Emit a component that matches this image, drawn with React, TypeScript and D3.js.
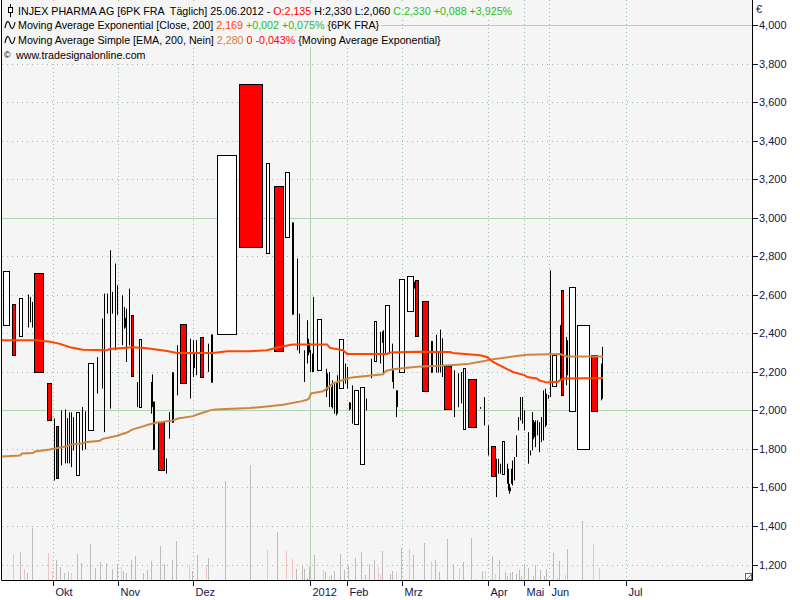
import React, { useEffect, useRef } from "react";
import * as d3 from "d3";

// [pos, width, open, high, low, close]  (pos/width in cumulative volume units)
const candles: number[][] = [
  [0.7, 7.6, 2.436, 2.724, 2.436, 2.724],
  [10.3, 4, 2.554, 2.554, 2.284, 2.284],
  [17.3, 4, 2.383, 2.585, 2.383, 2.585],
  [26.3, 1, 2.55, 2.601, 2.43, 2.5],
  [28.3, 1, 2.55, 2.589, 2.457, 2.5],
  [30.3, 1, 2.5, 2.563, 2.43, 2.47],
  [32.3, 10, 2.715, 2.715, 2.196, 2.196],
  [45.3, 4.4, 2.144, 2.144, 1.946, 1.946],
  [51.7, 1, 1.9, 1.958, 1.636, 1.7],
  [54, 2.7, 1.917, 1.917, 1.643, 1.643],
  [59, 1, 1.9, 2.0, 1.714, 1.8],
  [63, 1, 1.9, 2.005, 1.725, 1.8],
  [65, 1, 1.9, 1.96, 1.725, 1.8],
  [67.3, 1, 1.9, 1.99, 1.725, 1.8],
  [69.3, 1, 1.9, 1.99, 1.705, 1.8],
  [71.3, 1, 1.9, 1.965, 1.792, 1.85],
  [74.3, 4, 1.661, 1.993, 1.661, 1.993],
  [80.3, 1, 1.9, 2.017, 1.792, 1.95],
  [83.3, 1, 1.9, 1.995, 1.797, 1.95],
  [86.3, 6, 1.895, 2.248, 1.895, 2.248],
  [94.7, 1, 2.15, 2.277, 2.087, 2.2],
  [99.7, 1, 2.3, 2.476, 2.113, 2.35],
  [102.3, 1, 2.2, 2.606, 1.887, 2.4],
  [105, 1, 2.55, 2.606, 2.502, 2.56],
  [108, 1, 2.3, 2.831, 2.009, 2.5],
  [110, 1, 2.55, 2.615, 2.502, 2.58],
  [113, 1, 2.5, 2.762, 2.312, 2.6],
  [115.3, 1, 2.55, 2.649, 2.494, 2.6],
  [120, 1, 2.45, 2.597, 2.338, 2.5],
  [122, 2, 2.48, 2.537, 2.424, 2.43],
  [124, 1, 2.35, 2.528, 2.251, 2.45],
  [127, 1, 2.45, 2.632, 2.338, 2.55],
  [129, 2.7, 2.497, 2.497, 2.173, 2.173],
  [134.7, 1, 2.05, 2.147, 2.017, 2.1],
  [136.7, 3.6, 2.014, 2.372, 2.014, 2.372],
  [148.7, 1, 2.05, 2.147, 1.983, 2.1],
  [150.3, 1, 2.1, 2.187, 2.017, 2.15],
  [151, 2.3, 2.045, 2.045, 1.796, 1.796],
  [156.3, 6.4, 1.939, 1.939, 1.687, 1.687],
  [163.7, 1, 1.7, 1.75, 1.671, 1.69],
  [166.7, 1, 1.9, 1.991, 1.853, 1.95],
  [170, 2.3, 1.936, 2.197, 1.936, 2.197],
  [175, 1, 2.2, 2.338, 2.078, 2.25],
  [178.3, 6.4, 2.447, 2.447, 2.139, 2.139],
  [188, 1, 2.2, 2.372, 2.061, 2.3],
  [191.3, 2, 2.3, 2.364, 2.173, 2.22],
  [193.7, 1, 2.25, 2.364, 2.182, 2.3],
  [198.3, 4, 2.383, 2.383, 2.168, 2.168],
  [205.7, 1, 2.25, 2.346, 2.199, 2.3],
  [209.3, 2, 2.144, 2.393, 2.144, 2.393],
  [214.7, 20, 2.393, 3.323, 2.393, 3.323],
  [237.3, 24, 3.692, 3.692, 2.845, 2.845],
  [264.3, 4, 2.814, 3.282, 2.814, 3.282],
  [271.5, 10.2, 3.167, 3.167, 2.305, 2.305],
  [283.3, 4.4, 2.892, 3.235, 2.892, 3.235],
  [290.3, 2.4, 2.975, 2.975, 2.497, 2.497],
  [295.3, 1, 2.6, 2.788, 2.312, 2.5],
  [297.3, 1, 2.4, 2.502, 2.295, 2.35],
  [302, 1, 2.25, 2.312, 2.147, 2.2],
  [304.7, 1, 2.35, 2.468, 2.243, 2.3],
  [306.3, 2, 2.35, 2.372, 2.286, 2.3],
  [308, 2, 2.25, 2.312, 2.199, 2.22],
  [309.7, 1, 2.25, 2.295, 2.199, 2.22],
  [311.3, 1, 2.3, 2.589, 2.199, 2.4],
  [315.3, 4.4, 2.204, 2.476, 2.204, 2.476],
  [323.7, 1, 2.15, 2.216, 2.069, 2.1],
  [325.3, 1, 2.15, 2.192, 2.104, 2.12],
  [326.7, 1, 2.1, 2.199, 2.017, 2.15],
  [328.7, 1, 2.05, 2.121, 2.017, 2.08],
  [330.3, 1, 2.1, 2.156, 2.009, 2.05],
  [332, 1, 2.05, 2.147, 1.983, 2.1],
  [333.7, 1, 2.05, 2.147, 1.974, 2.1],
  [335.3, 1, 2.1, 2.182, 1.983, 2.05],
  [337.3, 4.4, 2.113, 2.372, 2.113, 2.372],
  [343, 1, 2.2, 2.243, 2.139, 2.18],
  [344.7, 1, 2.15, 2.225, 2.113, 2.2],
  [347, 2, 2.04, 2.043, 2.0, 2.005],
  [349.7, 1, 2.05, 2.13, 1.931, 2.0],
  [352.3, 4.4, 1.926, 2.108, 1.926, 2.108],
  [358.3, 4.7, 1.718, 2.123, 1.718, 2.123],
  [364.3, 2, 2.06, 2.061, 2.0, 2.0],
  [369, 1, 2.2, 2.268, 2.166, 2.22],
  [372, 2.7, 2.251, 2.462, 2.251, 2.462],
  [378, 1, 2.35, 2.407, 2.243, 2.3],
  [379.7, 2, 2.4, 2.41, 2.35, 2.355],
  [381.3, 1, 2.3, 2.416, 2.191, 2.35],
  [383.3, 4.4, 2.294, 2.545, 2.294, 2.545],
  [389.7, 1, 2.25, 2.346, 2.147, 2.2],
  [391.3, 2, 2.2, 2.208, 2.113, 2.12],
  [393.7, 1, 2.05, 2.104, 1.965, 2.0],
  [395, 1, 2.05, 2.104, 2.017, 2.08],
  [397, 6.3, 2.194, 2.684, 2.194, 2.684],
  [405.3, 6.4, 2.511, 2.696, 2.511, 2.696],
  [412.3, 1, 2.66, 2.667, 2.632, 2.64],
  [413.3, 4, 2.675, 2.675, 2.383, 2.383],
  [420.3, 6.4, 2.566, 2.566, 2.095, 2.095],
  [429, 2.3, 2.196, 2.36, 2.196, 2.36],
  [433.7, 1, 2.25, 2.393, 2.196, 2.3],
  [436, 1, 2.25, 2.3, 2.196, 2.22],
  [438.3, 1, 2.3, 2.419, 2.196, 2.35],
  [440.3, 1, 2.25, 2.374, 2.173, 2.3],
  [442.3, 8, 2.23, 2.23, 2.004, 2.004],
  [452.3, 1, 2.1, 2.208, 1.965, 2.05],
  [456, 1, 2.1, 2.192, 2.016, 2.15],
  [458.7, 1, 2.1, 2.199, 2.036, 2.15],
  [461, 2.7, 1.9, 2.22, 1.9, 2.22],
  [466.3, 8.4, 2.161, 2.161, 1.91, 1.91],
  [478, 1, 2.01, 2.017, 2.008, 2.012],
  [481.7, 1, 2.0, 2.069, 1.922, 1.95],
  [486, 1, 1.85, 1.922, 1.766, 1.8],
  [489.3, 4.4, 1.817, 1.817, 1.656, 1.656],
  [494.3, 1, 1.7, 1.749, 1.55, 1.6],
  [496.3, 1, 1.7, 1.749, 1.671, 1.72],
  [498, 1, 1.7, 1.723, 1.671, 1.69],
  [500, 2.7, 1.666, 1.842, 1.666, 1.842],
  [504.7, 1, 1.7, 1.723, 1.619, 1.65],
  [506.3, 1, 1.65, 1.697, 1.584, 1.62],
  [507.3, 2, 1.6, 1.619, 1.567, 1.58],
  [509.3, 1, 1.65, 1.697, 1.619, 1.67],
  [510.3, 1, 1.65, 1.74, 1.61, 1.7],
  [511.7, 1, 1.7, 1.758, 1.636, 1.72],
  [514, 1, 1.8, 1.87, 1.758, 1.82],
  [515.7, 1, 1.92, 1.965, 1.896, 1.94],
  [518, 1, 2.0, 2.069, 1.948, 2.02],
  [520, 1, 1.98, 2.069, 1.931, 2.0],
  [522.3, 1, 1.95, 2.0, 1.896, 1.93],
  [525.7, 1, 1.8, 1.887, 1.723, 1.78],
  [527.7, 1, 1.78, 1.792, 1.766, 1.775],
  [530.3, 2, 1.85, 1.991, 1.792, 1.95],
  [532.3, 2, 1.9, 1.939, 1.861, 1.88],
  [533.3, 1, 1.85, 1.948, 1.809, 1.9],
  [535, 1, 1.9, 1.948, 1.87, 1.92],
  [536.7, 1, 1.85, 1.939, 1.783, 1.9],
  [539, 1, 1.9, 1.965, 1.835, 1.94],
  [541.3, 1, 2.0, 2.104, 1.844, 2.05],
  [543.3, 2, 2.0, 2.113, 1.913, 2.08],
  [544.3, 1, 2.0, 2.087, 1.922, 2.05],
  [546.3, 1, 2.07, 2.08, 2.06, 2.065],
  [547.7, 1, 2.1, 2.727, 2.069, 2.2],
  [550.3, 4.7, 2.121, 2.286, 2.121, 2.286],
  [557.7, 2, 2.364, 2.442, 2.156, 2.208],
  [559, 2.7, 2.627, 2.627, 2.074, 2.074],
  [563.7, 2, 2.35, 2.381, 2.13, 2.2],
  [565, 1, 2.3, 2.364, 2.182, 2.25],
  [567.3, 6.4, 1.993, 2.642, 1.993, 2.642],
  [575.3, 12.4, 1.796, 2.445, 1.796, 2.445],
  [589.3, 6.4, 2.289, 2.289, 1.993, 1.993],
  [598.7, 1, 2.15, 2.243, 2.052, 2.2],
  [600.3, 1, 2.135, 2.33, 2.06, 2.33],
];

// Moving Average Exponential [Close, 200]
const emaPoints: number[][] = [
  [0, 2.364], [35, 2.364], [48, 2.356], [58, 2.345], [68, 2.328], [81, 2.315],
  [105, 2.312], [108, 2.318], [131, 2.327], [145, 2.322], [165, 2.308], [175, 2.298],
  [211, 2.298], [225, 2.307], [248, 2.307], [265, 2.312], [278, 2.33], [291, 2.342],
  [325, 2.342], [328, 2.324], [341, 2.312], [345, 2.293], [385, 2.293], [388, 2.3],
  [415, 2.304], [448, 2.303], [451, 2.298], [478, 2.286], [485, 2.277], [491, 2.251],
  [511, 2.199], [523, 2.182], [525, 2.173], [535, 2.165], [537, 2.156], [545, 2.144],
  [556, 2.148], [558, 2.156], [561, 2.165], [600, 2.168], [601, 2.169],
];

// Moving Average Simple [EMA, 200]
const smaPoints: number[][] = [
  [0, 1.761], [18, 1.766], [20, 1.776], [31, 1.779], [33, 1.787], [48, 1.797],
  [50, 1.8], [65, 1.813], [68, 1.822], [81, 1.829], [83, 1.834], [98, 1.842],
  [100, 1.851], [115, 1.868], [117, 1.872], [125, 1.885], [130, 1.9], [141, 1.917],
  [146, 1.925], [155, 1.937], [160, 1.94], [171, 1.948], [176, 1.958], [191, 1.97],
  [196, 1.98], [208, 2.0], [213, 2.004], [248, 2.012], [265, 2.02], [281, 2.029],
  [300, 2.048], [305, 2.055], [307, 2.062], [309, 2.088], [321, 2.099], [325, 2.114],
  [331, 2.14], [345, 2.164], [350, 2.171], [381, 2.187], [384, 2.205], [391, 2.213],
  [415, 2.226], [448, 2.234], [465, 2.24], [481, 2.255], [491, 2.265], [511, 2.279],
  [525, 2.288], [558, 2.292], [565, 2.28], [601, 2.28],
];

// [pos, volume, down(1)/up(0)]
const volumes: number[][] = [
  [11.3, 26, 1], [18.3, 28, 0], [22.3, 11, 1], [25.3, 7, 0], [29.7, 52, 0],
  [46.3, 27, 1], [50.3, 9, 1], [54.3, 20, 0], [58.3, 13, 0], [62.3, 7, 0],
  [66.3, 8, 0], [69, 7, 1], [75.3, 26, 0], [79.3, 17, 0], [88.3, 36, 0],
  [93.3, 12, 0], [98.3, 18, 0], [104.3, 17, 0], [110.3, 11, 0], [115.3, 16, 0],
  [119.3, 13, 1], [121.3, 9, 0], [124.3, 7, 0], [129.3, 20, 0], [133.3, 24, 0],
  [141.3, 7, 0], [145.3, 10, 0], [149.3, 19, 0], [158.3, 34, 0], [162.3, 16, 0],
  [170.3, 20, 0], [174.3, 39, 0], [187.3, 15, 1], [190.3, 9, 0], [195.3, 25, 0],
  [204.3, 15, 1], [206.3, 22, 0], [223.3, 99, 0], [248.3, 115, 0], [265.3, 30, 1],
  [275.3, 48, 0], [284.3, 29, 1], [290.3, 21, 1], [294.3, 11, 0], [300.3, 14, 0],
  [302.3, 11, 0], [305.3, 2, 0], [307.3, 13, 0], [312.3, 25, 0], [321.3, 10, 1],
  [323.3, 8, 0], [327.3, 4, 1], [329.3, 5, 0], [332.3, 9, 0], [338.3, 26, 0],
  [342.3, 10, 0], [346.3, 14, 0], [353.3, 22, 0], [359.3, 28, 0], [363.3, 5, 0],
  [367.3, 16, 0], [372.3, 20, 0], [376.3, 13, 1], [378.3, 5, 1], [380.3, 29, 0],
  [388.3, 6, 0], [390.3, 9, 0], [394.3, 8, 1], [399.3, 32, 0], [407.3, 31, 1],
  [411.3, 25, 0], [422.3, 37, 0], [429.3, 19, 1], [433.3, 20, 0], [437.3, 8, 0],
  [445.3, 41, 0], [451.3, 15, 0], [457.3, 12, 1], [461.3, 18, 0], [469.3, 42, 0],
  [474.3, 1, 1], [480.3, 9, 0], [483.3, 9, 1], [490.3, 24, 0], [493.3, 6, 1],
  [497.3, 20, 0], [503.3, 8, 0], [505.3, 4, 0], [508.3, 7, 0], [510.3, 8, 0],
  [514.3, 6, 0], [517.3, 10, 0], [519.3, 4, 0], [522.3, 16, 0], [526.3, 12, 0],
  [531.3, 4, 0], [533.3, 15, 0], [538.3, 10, 0], [542.3, 4, 0], [544.3, 11, 0],
  [551.3, 27, 0], [555.3, 2, 1], [557.3, 19, 0], [563.3, 5, 1], [565.3, 31, 0],
  [580.3, 59, 0], [591.3, 36, 1], [597.3, 12, 1],
];

const priceTicks = [1.2, 1.4, 1.6, 1.8, 2.0, 2.2, 2.4, 2.6, 2.8, 3.0, 3.2, 3.4, 3.6, 3.8, 4.0];
const monthLabels = ["Okt", "Nov", "Dez", "2012", "Feb", "Mrz", "Apr", "Mai", "Jun", "Jul"];
const monthPos = [51, 116, 191, 308, 345, 400, 486, 522, 547, 624];

const RED = "#ff0000";
const GREEN = "#1fbf1f";
const EMA_COLOR = "#ff4500";
const SMA_COLOR = "#cd853f";

const headerRows: [string, string][][] = [
  [["INJEX PHARMA AG [6PK FRA  Täglich] 25.06.2012 - ", "#000"], ["O:2,135", RED], [" H:2,330 L:2,060 ", "#000"], ["C:2,330 +0,088 +3,925%", GREEN]],
  [["Moving Average Exponential [Close, 200] ", "#000"], ["2,169", EMA_COLOR], [" +0,002 +0,075%", GREEN], [" {6PK FRA}", "#000"]],
  [["Moving Average Simple [EMA, 200, Nein] ", "#000"], ["2,280", SMA_COLOR], [" 0 -0,043%", RED], [" {Moving Average Exponential}", "#000"]],
  [["www.tradesignalonline.com", "#000"]],
];

export default function App() {
  const ref = useRef<SVGSVGElement>(null);
  useEffect(() => {
    const svg = d3.select(ref.current);
    svg.selectAll("*").remove();
    const font = "'Liberation Sans', Arial, sans-serif";
    const left = 2, right = 752, bottom = 580;
    const x = d3.scaleLinear().domain([0, 750]).range([left, right]);
    const y = d3.scaleLinear().domain([1.2, 4.0]).range([564.5, 25]);
    const vy = d3.scaleLinear().domain([0, 120]).range([bottom, bottom - 120]);
    const px = (v: number) => Math.round(v) + 0.5;

    svg.append("rect").attr("width", 800).attr("height", 600).attr("fill", "#ffffff");
    svg.append("rect").attr("x", left).attr("y", 0).attr("width", right - left).attr("height", bottom).attr("fill", "#f5f5f5");

    // volume
    const vg = svg.append("g");
    volumes.forEach((d) => {
      vg.append("line")
        .attr("x1", px(x(d[0]))).attr("x2", px(x(d[0])))
        .attr("y1", bottom).attr("y2", vy(d[1]))
        .attr("stroke", d[2] ? "#f0c4c4" : "#bcbcbc").attr("stroke-width", 1);
    });

    // grid
    const gg = svg.append("g");
    priceTicks.forEach((t) => {
      const solid = Math.abs(t - Math.round(t)) < 1e-6;
      gg.append("line")
        .attr("x1", left).attr("x2", right)
        .attr("y1", px(y(t))).attr("y2", px(y(t)))
        .attr("stroke", solid ? "#b2d0b2" : "#a2bea2")
        .attr("stroke-dasharray", solid ? null : "1,4");
    });
    monthPos.forEach((p, i) => {
      const solid = monthLabels[i] === "2012";
      gg.append("line")
        .attr("x1", px(x(p))).attr("x2", px(x(p)))
        .attr("y1", 0).attr("y2", bottom)
        .attr("stroke", solid ? "#b2d0b2" : "#a2bea2")
        .attr("stroke-dasharray", solid ? null : "1,3");
    });

    // candles
    const cg = svg.append("g");
    candles.forEach(([pos, w, o, h, l, c]) => {
      const x0 = x(pos), x1 = x(pos + w);
      const pw = x1 - x0;
      const top = Math.max(o, c), bot = Math.min(o, c);
      if (pw <= 2.4) {
        const xc = px(x0);
        cg.append("line").attr("x1", xc).attr("x2", xc).attr("y1", y(h)).attr("y2", y(l))
          .attr("stroke", "#000").attr("stroke-width", 1);
        if (pw >= 2) {
          cg.append("rect").attr("x", Math.round(x0)).attr("width", 2)
            .attr("y", y(top)).attr("height", Math.max(1, y(bot) - y(top))).attr("fill", "#000");
        }
      } else {
        const xc = px((x0 + x1) / 2);
        if (h > top + 1e-6) {
          cg.append("line").attr("x1", xc).attr("x2", xc).attr("y1", y(h)).attr("y2", y(top)).attr("stroke", "#000");
        }
        if (l < bot - 1e-6) {
          cg.append("line").attr("x1", xc).attr("x2", xc).attr("y1", y(bot)).attr("y2", y(l)).attr("stroke", "#000");
        }
        const rx = Math.round(x0), rx1 = Math.round(x1);
        const ry = Math.round(y(top)), ry1 = Math.round(y(bot));
        cg.append("rect")
          .attr("x", rx + 0.5).attr("y", ry + 0.5)
          .attr("width", Math.max(1, rx1 - rx - 1)).attr("height", Math.max(1, ry1 - ry - 1))
          .attr("fill", c >= o ? "#ffffff" : RED).attr("stroke", "#000").attr("stroke-width", 1);
      }
    });

    // moving averages
    const line = d3.line<number[]>().x((d) => x(d[0])).y((d) => y(d[1])).curve(d3.curveLinear);
    svg.append("path").attr("d", line(smaPoints) as string).attr("fill", "none")
      .attr("stroke", SMA_COLOR).attr("stroke-width", 2);
    svg.append("path").attr("d", line(emaPoints) as string).attr("fill", "none")
      .attr("stroke", EMA_COLOR).attr("stroke-width", 2);

    // frame
    svg.append("path").attr("d", `M${left - 0.5},0 V${bottom + 0.5} H${right + 0.5} V0`)
      .attr("fill", "none").attr("stroke", "#000").attr("stroke-width", 1);
    // resize glyph
    svg.append("rect").attr("x", 745.5).attr("y", 573.5).attr("width", 6).attr("height", 6)
      .attr("fill", "#fff").attr("stroke", "#666");
    svg.append("line").attr("x1", 747).attr("y1", 579).attr("x2", 751).attr("y2", 575).attr("stroke", "#666");

    // right axis
    const ag = svg.append("g").attr("font-family", font).attr("font-size", 11).attr("fill", "#141448");
    priceTicks.forEach((t) => {
      const yy = px(y(t));
      ag.append("line").attr("x1", right + 1).attr("x2", right + 6).attr("y1", yy).attr("y2", yy).attr("stroke", "#141448");
      ag.append("text").attr("x", 759).attr("y", yy).attr("dy", "0.35em")
        .text(d3.format(".3f")(t).replace(".", ","));
    });
    ag.append("text").attr("x", 756).attr("y", 13).text("€");

    // bottom axis
    monthPos.forEach((p, i) => {
      const xx = px(x(p));
      ag.append("line").attr("x1", xx).attr("x2", xx).attr("y1", bottom + 1).attr("y2", bottom + 6).attr("stroke", "#141448");
      ag.append("text").attr("x", xx + 2).attr("y", 596).text(monthLabels[i]);
    });

    // header
    const hg = svg.append("g").attr("font-family", font).attr("font-size", 10.7);
    const baselines = [15, 29, 44, 59];
    const starts = [18, 18, 18, 16];
    headerRows.forEach((row, ri) => {
      const bg = hg.append("rect").attr("fill", "#f5f5f5");
      const t = hg.append("text").attr("x", starts[ri]).attr("y", baselines[ri]).style("white-space", "pre");
      row.forEach(([s, col]) => t.append("tspan").attr("fill", col).text(s));
      const wdt = (t.node() as SVGTextElement).getComputedTextLength();
      bg.attr("x", left).attr("y", baselines[ri] - 12).attr("width", starts[ri] + wdt + 2 - left).attr("height", 15);
    });
    // icons
    hg.append("line").attr("x1", 10.5).attr("x2", 10.5).attr("y1", 4).attr("y2", 17).attr("stroke", "#000");
    hg.append("rect").attr("x", 8.5).attr("y", 7.5).attr("width", 4).attr("height", 5).attr("fill", "#fff").attr("stroke", "#000");
    [29, 44].forEach((b) => {
      hg.append("path").attr("d", `M5,${b - 1} C6.5,${b - 9} 8.5,${b - 9} 10,${b - 4} C11.5,${b + 1} 13.5,${b + 1} 15,${b - 7}`)
        .attr("fill", "none").attr("stroke", "#000").attr("stroke-width", 1.1);
    });
    hg.append("text").attr("x", 4).attr("y", 58).attr("font-size", 9).text("©");
  }, []);
  return (
    <svg ref={ref} width={800} height={600} style={{ position: "absolute", left: 0, top: 0, display: "block" }} />
  );
}
